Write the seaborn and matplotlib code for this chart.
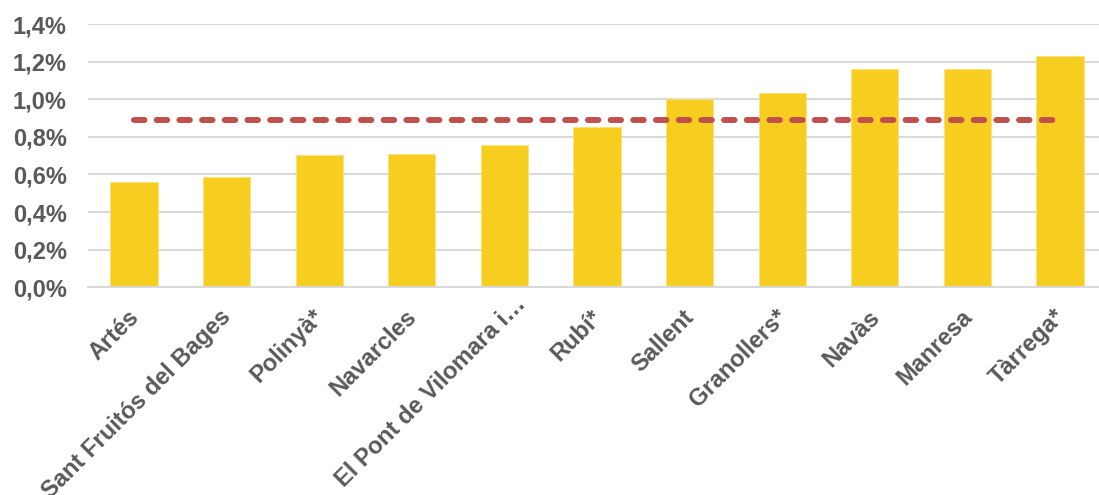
import numpy as np
import matplotlib
matplotlib.use("Agg")
import matplotlib.pyplot as plt
import matplotlib.transforms as mtransforms
import seaborn as sns

# values (percent)
cities = ["Artés", "Sant Fruitós del Bages", "Polinyà*", "Navarcles",
          "El Pont de Vilomara i…", "Rubí*", "Sallent", "Granollers*",
          "Navàs", "Manresa", "Tàrrega*"]
rates = [0.562, 0.585, 0.705, 0.711, 0.758, 0.854, 1.000, 1.035, 1.161, 1.161, 1.230]
average = 0.89
yticks = [0.0, 0.2, 0.4, 0.6, 0.8, 1.0, 1.2, 1.4]

sns.set_style("white")
plt.rcParams["font.family"] = ["Liberation Sans", "DejaVu Sans"]

fig = plt.figure(figsize=(10.99, 4.95), dpi=100)
ax = fig.add_axes([0.0798, 0.4196, 0.9202, 0.5319])

sns.barplot(x=cities, y=rates, color="#F7CE1F", width=0.51, saturation=1,
            edgecolor="#FBE27A", linewidth=0.6, ax=ax)

# average line across all towns
ax.plot(np.arange(len(cities)), [average] * len(cities), color="#C0504D",
        linewidth=4.3, linestyle=(0, (1.75, 2.05)), dash_capstyle="round",
        zorder=4)

ax.set_ylim(0, 1.4)
ax.set_xlim(-0.5, 10.42)
ax.set_yticks(yticks)
ax.set_yticklabels([f"{v:.1f}%".replace(".", ",") for v in yticks])
ax.yaxis.grid(True, color="#D9D9D9", linewidth=1.5)
ax.set_axisbelow(True)
for side in ["top", "right", "left"]:
    ax.spines[side].set_visible(False)
ax.spines["bottom"].set_color("#D9D9D9")
ax.spines["bottom"].set_linewidth(1.5)

ax.tick_params(axis="y", length=0, pad=15, labelsize=17, labelcolor="#595959")
ax.tick_params(axis="x", length=0, pad=13, labelsize=17, labelcolor="#595959")
for lbl in ax.get_yticklabels():
    lbl.set_fontweight("bold")
for lbl in ax.get_xticklabels():
    lbl.set_fontweight("bold")
    lbl.set_rotation(45)
    lbl.set_ha("right")
    lbl.set_rotation_mode("anchor")
    # nudge left; the truncated label sits further up along its direction
    dx, dy = -0.07, 0.0
    if lbl.get_text().endswith("…"):
        dx, dy = 0.10, 0.13
    lbl.set_transform(lbl.get_transform() +
                      mtransforms.ScaledTranslation(dx, dy, fig.dpi_scale_trans))

fig.savefig("out.png", dpi=100)
